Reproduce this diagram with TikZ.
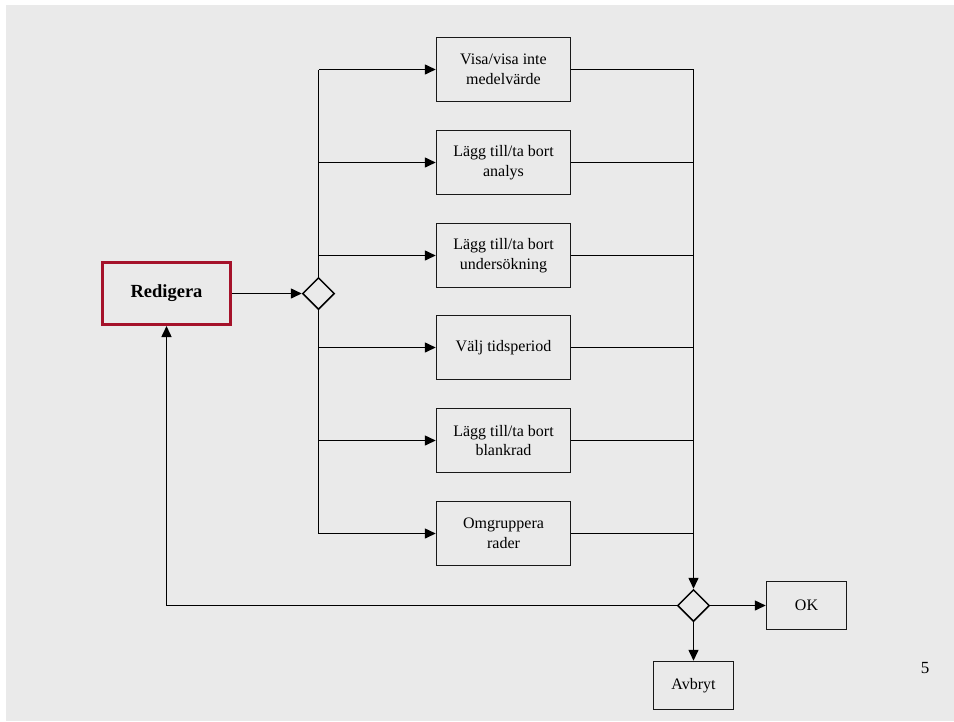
\documentclass[tikz,border=0pt]{standalone}
\usepackage{fontspec}
\setmainfont{Liberation Serif}
\usetikzlibrary{arrows.meta,shapes.geometric}
\definecolor{pagebg}{HTML}{EAEAEA}
\definecolor{boxred}{HTML}{A5122A}
\begin{document}
\begin{tikzpicture}[x=1pt,y=-1pt,
  line width=1.5pt,
  flow/.style={-{Triangle[length=11pt,width=10pt]}},
  stepbox/.style={draw=black!90, line width=1.5pt, minimum width=134pt, minimum height=64pt,
    align=center, font=\fontsize{16}{19.5}\selectfont, inner sep=0pt},
  endbox/.style={draw=black!90, line width=1.5pt, minimum width=80pt, minimum height=48pt,
    font=\fontsize{16}{19.5}\selectfont, inner sep=0pt},
  choice/.style={draw, diamond, minimum width=32pt, minimum height=32pt, inner sep=0pt, fill=pagebg}]
  % page
  \fill[white] (0,0) rectangle (954,721);
  \fill[pagebg] (6,5) rectangle (954,721);
  \useasboundingbox (0,0) rectangle (954,721);

  % main action and the branch point
  \node[draw=boxred, line width=3pt, minimum width=128pt, minimum height=62pt,
        font=\fontsize{18.5}{22}\selectfont\bfseries] (red) at (166.5,293.5) {Redigera};
  \node[choice] (d1) at (318.5,293.5) {};

  % editing options
  \node[stepbox] (b1) at (503.5,69.5)  {Visa/visa inte\\medelvärde};
  \node[stepbox] (b2) at (503.5,162.5) {Lägg till/ta bort\\analys};
  \node[stepbox] (b3) at (503.5,255.5) {Lägg till/ta bort\\undersökning};
  \node[stepbox] (b4) at (503.5,347.5) {Välj tidsperiod};
  \node[stepbox] (b5) at (503.5,440.5) {Lägg till/ta bort\\blankrad};
  \node[stepbox] (b6) at (503.5,533.5) {Omgruppera\\rader};

  % closing choice
  \node[choice] (d2) at (693.5,605.5) {};
  \node[endbox] (ok) at (806.5,605.5) {OK};
  \node[endbox] (av) at (693.5,685.5) {Avbryt};

  \node[font=\fontsize{17}{20}\selectfont] (pg) at (925,668) {5};

  % connectors
  \draw[flow] (red.east) -- (d1.west);
  \draw (d1.north) -- (318.5,69.5) coordinate (tl);
  \draw (d1.south) -- (318.5,533.5) coordinate (bl);
  \foreach \b in {b1,b2,b3,b4,b5,b6}
    \draw[flow] (318.5,0 |- \b.west) -- (\b.west);
  \coordinate (tr) at (693.5,69.5);
  \foreach \b in {b1,b2,b3,b4,b5,b6}
    \draw (\b.east) -- (tr |- \b.east);
  \draw[flow] (tr) -- (d2.north);
  \draw[flow] (d2.east) -- (ok.west);
  \draw[flow] (d2.south) -- (av.north);
  \draw[flow] (d2.west) -| (red.south);
\end{tikzpicture}
\end{document}
